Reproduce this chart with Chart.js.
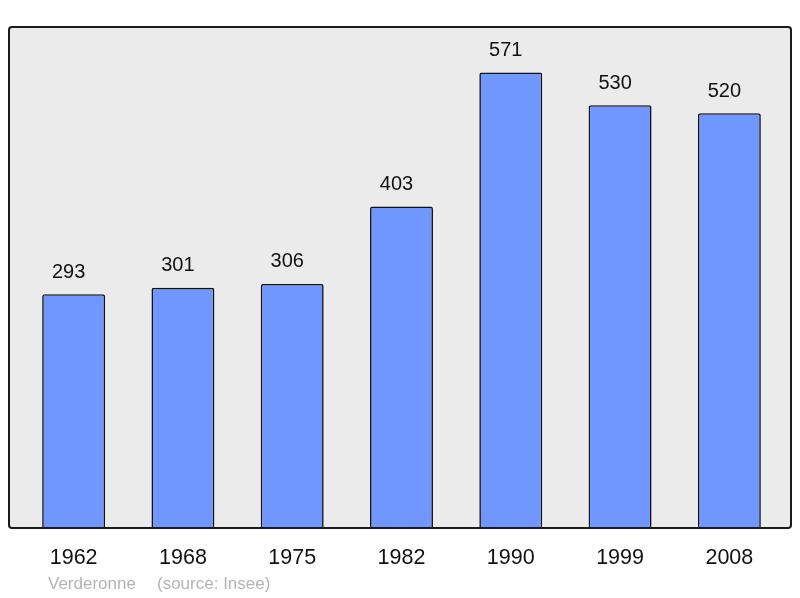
<!DOCTYPE html>
<html>
<head>
<meta charset="utf-8">
<script src="https://cdn.jsdelivr.net/npm/chart.js@4/dist/chart.umd.min.js"></script>
<style>
  html, body { margin: 0; padding: 0; background: #fff; }
  #wrap { width: 800px; height: 598px; position: relative; }
</style>
</head>
<body>
<div id="wrap"><canvas id="popChart"></canvas></div>
<script>
'use strict';

// 年（カテゴリ）
const years = ['1962', '1968', '1975', '1982', '1990', '1999', '2008'];
// 人口
const population = [293, 301, 306, 403, 571, 530, 520];
// 下部の注記
const footerName = 'Verderonne';
const footerSource = '(source: Insee)';

const FONT = '"Liberation Sans", Arial, sans-serif';

// 背景の枠を描く
const framePlugin = {
    id: 'frame',
    beforeDraw(chart) {
        const { ctx, chartArea: a } = chart;
        const x = a.left - 10, y = a.top, w = a.right - a.left + 17, h = a.bottom - a.top;
        ctx.save();
        ctx.beginPath();
        ctx.roundRect(x, y, w, h, 3);
        ctx.fillStyle = '#ebebeb';
        ctx.fill();
        ctx.restore();
    },
    afterDatasetsDraw(chart) {
        const { ctx, chartArea: a } = chart;
        const x = a.left - 10, y = a.top, w = a.right - a.left + 17, h = a.bottom - a.top;
        ctx.save();
        ctx.beginPath();
        ctx.roundRect(x, y, w, h, 3);
        ctx.lineWidth = 2;
        ctx.strokeStyle = '#1a1a1a';
        ctx.stroke();
        // 注記
        ctx.font = '17px ' + FONT;
        ctx.fillStyle = '#b4b4b4';
        ctx.textBaseline = 'middle';
        ctx.fillText(footerName, 48, 584);
        ctx.fillText(footerSource, 157, 584);
        ctx.restore();
    }
};

// 棒の上の値ラベル
const valueLabelPlugin = {
    id: 'valueLabels',
    afterDatasetsDraw(chart) {
        const { ctx } = chart;
        const meta = chart.getDatasetMeta(0);
        ctx.save();
        ctx.font = '20px ' + FONT;
        ctx.fillStyle = '#111';
        ctx.textAlign = 'center';
        ctx.textBaseline = 'middle';
        meta.data.forEach((bar, i) => {
            ctx.fillText(String(population[i]), bar.x - 5, bar.y - 22);
        });
        ctx.restore();
    }
};

new Chart(document.getElementById('popChart'), {
    type: 'bar',
    data: {
        labels: years,
        datasets: [{
            data: population,
            backgroundColor: '#7096ff',
            borderColor: '#111',
            borderWidth: 1.6,
            borderRadius: 2,
            borderSkipped: 'bottom',
            categoryPercentage: 1,
            barPercentage: 0.576
        }]
    },
    options: {
        responsive: true,
        maintainAspectRatio: false,
        animation: false,
        layout: { padding: { left: 19, right: 16, top: 27, bottom: 0 } },
        plugins: {
            legend: { display: false },
            tooltip: { enabled: false }
        },
        scales: {
            x: {
                grid: { display: false },
                border: { display: false },
                ticks: {
                    color: '#111',
                    font: { family: FONT, size: 21.5 },
                    padding: 9,
                    maxRotation: 0
                },
                afterFit: scale => { scale.height = 70; }
            },
            y: {
                display: false,
                min: 0,
                max: 628
            }
        }
    },
    plugins: [framePlugin, valueLabelPlugin]
});
</script>
</body>
</html>
